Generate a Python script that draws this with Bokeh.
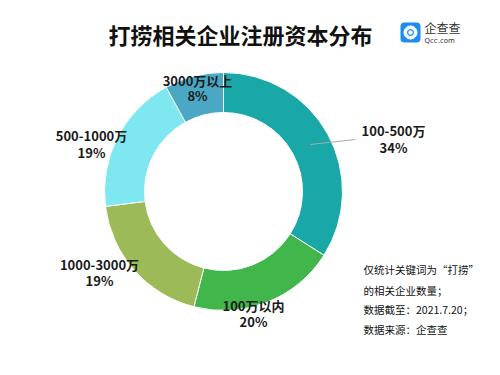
import numpy as np
from bokeh.plotting import figure
from bokeh.models import Range1d, ColumnDataSource
from bokeh.core.properties import value
from bokeh.embed import file_html
from bokeh.resources import INLINE

categories = ["100-500万", "100万以内", "1000-3000万", "500-1000万", "3000万以上"]
shares = [34, 20, 19, 19, 8]
colors = ["#1AA7A8", "#41B64A", "#9CBB58", "#7FE7EF", "#4AA8C5"]
title_text = "打捞相关企业注册资本分布"
notes = ["仅统计关键词为“打捞”", "的相关企业数量；", "数据截至：2021.7.20；", "数据来源：企查查"]

W, H = 500, 375
FONT = value("Noto Sans CJK SC")

p = figure(width=W, height=H, x_range=Range1d(0, W), y_range=Range1d(0, H),
           output_backend="svg", toolbar_location=None, min_border=0)
p.axis.visible = False
p.grid.visible = False
p.outline_line_color = None
p.background_fill_color = "white"
p.border_fill_color = "white"

cx, cy = 223, H - 191
r_out, r_in = 119, 79

vals = np.array(shares, dtype=float)
frac = vals / vals.sum()
cum = np.concatenate([[0], np.cumsum(frac)])
start = np.pi / 2 - 2 * np.pi * cum[1:]
end = np.pi / 2 - 2 * np.pi * cum[:-1]

src = ColumnDataSource(dict(start=start, end=end, color=colors))
p.annular_wedge(x=cx, y=cy, inner_radius=r_in, outer_radius=r_out,
                start_angle="start", end_angle="end", color="color",
                line_color="white", line_width=1, source=src)

# leader line for first slice
p.line(x=[310, 355], y=[H - 144, H - 139], line_color="#AAAAAA", line_width=1)

# labels (pixel positions of label centers)
lab_x = [393, 253, 99, 91, 197]
lab_y1 = [130, 305, 264, 135, 80]
lab_y2 = [147, 321, 280, 152, 95]
for c, s, x, y1, y2 in zip(categories, shares, lab_x, lab_y1, lab_y2):
    p.text(x=[x], y=[H - y1], text=[c], text_font=FONT, text_font_size="13px",
           text_font_style="bold", text_align="center", text_baseline="middle",
           text_color="#1a1a1a")
    p.text(x=[x], y=[H - y2], text=[f"{s}%"], text_font=FONT, text_font_size="13px",
           text_font_style="bold", text_align="center", text_baseline="middle",
           text_color="#1a1a1a")

# title
p.text(x=[240], y=[H - 33], text=[title_text], text_font=FONT, text_font_size="22px",
       text_font_style="bold", text_align="center", text_baseline="middle",
       text_color="#111111")

# logo
p.quad(left=[400], right=[420], bottom=[H - 42], top=[H - 22], fill_color="#1E8CF0",
       line_color=None, border_radius=4)
p.annular_wedge(x=[410], y=[H - 32], inner_radius=4, outer_radius=6.5,
                start_angle=[-0.9], end_angle=[5.3], color="white")
p.circle(x=[410], y=[H - 32], radius=2.2, fill_color="white", line_color=None)
p.text(x=[424], y=[H - 27], text=["企查查"], text_font=FONT, text_font_size="12px",
       text_align="left", text_baseline="middle", text_color="#333333")
p.text(x=[424], y=[H - 40], text=["Qcc.com"], text_font=value("DejaVu Sans"),
       text_font_size="7px", text_align="left", text_baseline="middle", text_color="#333333")

# notes
note_y = [269, 290, 309, 329]
for t, y in zip(notes, note_y):
    p.text(x=[363], y=[H - y], text=[t], text_font=FONT, text_font_size="10.5px",
           text_align="left", text_baseline="middle", text_color="#111111")

open("out.html", "w").write(file_html(p, INLINE))
